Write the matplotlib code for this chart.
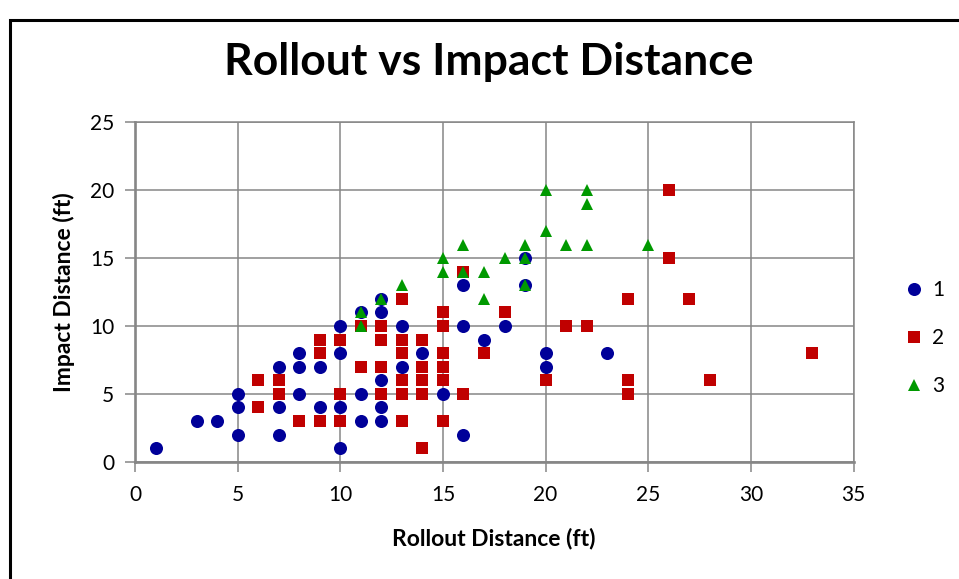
import matplotlib
matplotlib.use("Agg")
from matplotlib import pyplot as plt
from matplotlib.patches import Rectangle

plt.rcParams['font.family'] = ['Lato', 'DejaVu Sans']

# series 1 (blue circles)
x1 = [1, 3, 4, 5, 5, 5, 7, 7, 7, 8, 8, 8, 9, 9, 10, 10, 10, 10, 11, 11, 11,
      12, 12, 12, 12, 12, 13, 13, 14, 15, 16, 16, 16, 17, 18, 19, 19, 20, 20, 23]
y1 = [1, 3, 3, 5, 4, 2, 7, 4, 2, 8, 7, 5, 7, 4, 10, 8, 4, 1, 11, 5, 3,
      12, 11, 6, 4, 3, 10, 7, 8, 5, 13, 10, 2, 9, 10, 15, 13, 8, 7, 8]

# series 2 (red squares)
x2 = [6, 6, 7, 7, 8, 9, 9, 9, 10, 10, 10, 11, 11, 12, 12, 12, 12,
      13, 13, 13, 13, 13, 13, 14, 14, 14, 14, 14, 15, 15, 15, 15, 15, 15,
      16, 16, 17, 18, 20, 21, 22, 24, 24, 24, 26, 26, 27, 28, 33]
y2 = [6, 4, 6, 5, 3, 9, 8, 3, 9, 5, 3, 10, 7, 10, 9, 7, 5,
      12, 9, 8, 6, 5, 3, 9, 7, 6, 5, 1, 11, 10, 8, 7, 6, 3,
      14, 5, 8, 11, 6, 10, 10, 12, 6, 5, 20, 15, 12, 6, 8]

# series 3 (green triangles)
x3 = [11, 11, 12, 13, 15, 15, 16, 16, 17, 17, 18, 19, 19, 19, 20, 20, 21, 22, 22, 22, 25]
y3 = [11, 10, 12, 13, 15, 14, 16, 14, 14, 12, 15, 16, 15, 13, 20, 17, 16, 20, 19, 16, 16]

labels = ["1", "2", "3"]

fig = plt.figure(figsize=(9.59, 5.79), dpi=100)
ax = fig.add_axes([135 / 959, 1 - 461.7 / 579, (853.5 - 135) / 959, (461.7 - 122.4) / 579])

ax.plot(x1, y1, linestyle="none", marker="o", markersize=9.4, color="#000099",
        markeredgewidth=0, label=labels[0], clip_on=False)
ax.plot(x2, y2, linestyle="none", marker="s", markersize=9.2, color="#C00000",
        markeredgewidth=0, label=labels[1], clip_on=False)
ax.plot(x3, y3, linestyle="none", marker="^", markersize=9.0, color="#009900",
        markeredgewidth=0, label=labels[2], clip_on=False)

ax.set_xlim(0, 35)
ax.set_ylim(0, 25)
ax.set_xticks(range(0, 36, 5))
ax.set_yticks(range(0, 26, 5))
ax.grid(True, color="#868686", linewidth=1.1)
ax.set_axisbelow(True)
for side in ["top", "right"]:
    ax.spines[side].set_color("#868686")
    ax.spines[side].set_linewidth(1.1)
for side in ["left", "bottom"]:
    ax.spines[side].set_color("#868686")
    ax.spines[side].set_linewidth(1.9)
ax.tick_params(direction="out", length=7, width=1.1, color="#868686",
               labelsize=15, labelcolor="black")
ax.tick_params(axis="x", pad=10)
ax.tick_params(axis="y", pad=8)

ax.set_xlabel("Rollout Distance (ft)", fontsize=16.5, fontweight="bold", labelpad=16)
ax.set_ylabel("Impact Distance (ft)", fontsize=16.5, fontweight="bold", labelpad=11)

fig.text(0.51, 1 - 62 / 579, "Rollout vs Impact Distance", fontsize=32,
         fontweight="bold", ha="center", va="center")

fig.legend(loc="center left", bbox_to_anchor=(904 / 959, 1 - 338 / 579), frameon=False,
           fontsize=15, handlelength=1.0, handletextpad=0.35, labelspacing=1.35,
           borderaxespad=0, borderpad=0)

fig.add_artist(Rectangle((10 / 959, -0.1), 1.2, 1 - 20 / 579 + 0.1,
                         transform=fig.transFigure, fill=False,
                         edgecolor="black", linewidth=2.2))

fig.savefig("out.png", dpi=100)
